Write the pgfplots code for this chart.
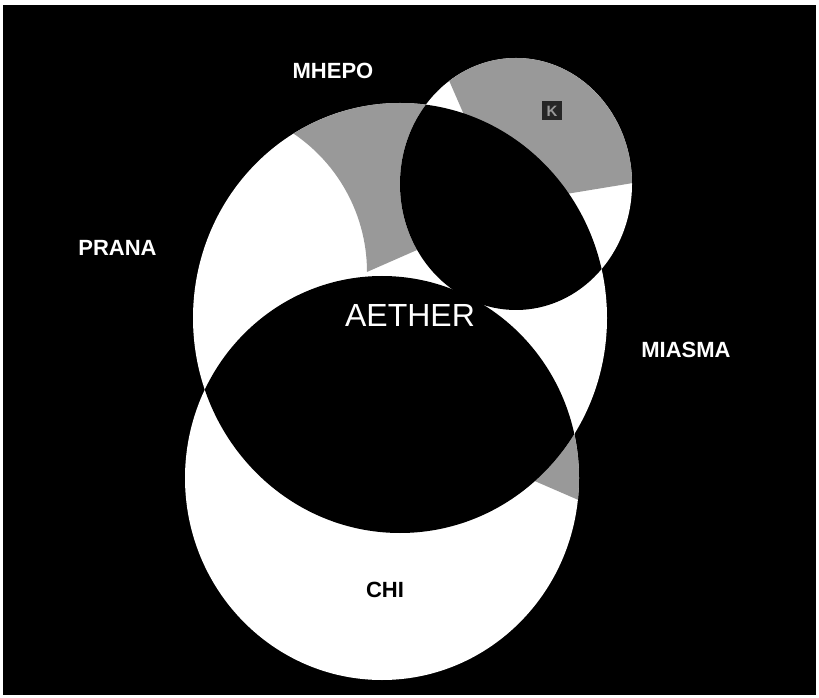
\documentclass[border=0pt]{standalone}
\usepackage{fontspec}
\setmainfont{Liberation Sans}
\usepackage{pgfplots}
\pgfplotsset{compat=1.18}
\definecolor{dither}{gray}{0.6}
\begin{document}
\begin{tikzpicture}
\begin{axis}[width=819pt,height=697pt,scale only axis,
  xmin=0,xmax=819,ymin=0,ymax=697,hide axis,clip=false]
% page
\addplot[fill=white,draw=none] coordinates {(0,0) (819,0) (819,697) (0,697)} -- cycle;
% background
\addplot[fill=black,draw=none] coordinates {(3,2) (816,2) (816,692) (3,692)} -- cycle;
% CHI ellipse
\fill[white] (axis cs:382,219) ellipse [x radius=197pt, y radius=202pt];
\begin{scope}
\clip (axis cs:382,219) ellipse [x radius=197pt, y radius=202pt];
\addplot[fill=dither,draw=none] coordinates {(500,231) (620,179) (620,317) (500,317)} -- cycle;
\end{scope}
% big upper circle
\fill[white] (axis cs:400,379) ellipse [x radius=207pt, y radius=215pt];
\begin{scope}
\clip (axis cs:400,379) ellipse [x radius=207pt, y radius=215pt];
\fill[dither] (axis cs:270,667) -- (axis cs:278.4,572.5) arc [start angle=62, end angle=0, radius=167pt]
  -- (axis cs:417,447) -- (axis cs:470,471) -- (axis cs:470,667) -- cycle;
\end{scope}
% small top-right ellipse
\fill[white] (axis cs:516,513) ellipse [x radius=116pt, y radius=126pt];
\begin{scope}
\clip (axis cs:516,513) ellipse [x radius=116pt, y radius=126pt];
\addplot[fill=dither,draw=none] coordinates {(417,690) (475,557) (560,502) (700,525) (700,697)} -- cycle;
\fill[black] (axis cs:400,379) ellipse [x radius=207pt, y radius=215pt];
\end{scope}
% lens of CHI and big circle
\begin{scope}
\clip (axis cs:382,219) ellipse [x radius=197pt, y radius=202pt];
\fill[black] (axis cs:400,379) ellipse [x radius=207pt, y radius=215pt];
\end{scope}
% small box
\node[fill=black!85,text=dither,inner sep=3pt,minimum width=20pt,minimum height=19pt,font=\fontsize{15}{15}\selectfont\bfseries] at (axis cs:552,586) {K};
% labels
\node[text=white,inner sep=0pt,font=\fontsize{22}{22}\selectfont\bfseries] at (axis cs:333,626) {MHEPO};
\node[text=white,inner sep=0pt,font=\fontsize{22}{22}\selectfont\bfseries] at (axis cs:117.5,449.5) {PRANA};
\node[text=white,inner sep=0pt,font=\fontsize{32}{32}\selectfont] at (axis cs:410,382) {AETHER};
\node[text=white,inner sep=0pt,font=\fontsize{22}{22}\selectfont\bfseries] at (axis cs:686,347) {MIASMA};
\node[text=black,inner sep=0pt,font=\fontsize{22}{22}\selectfont\bfseries] at (axis cs:385,107) {CHI};
\end{axis}
\end{tikzpicture}
\end{document}
